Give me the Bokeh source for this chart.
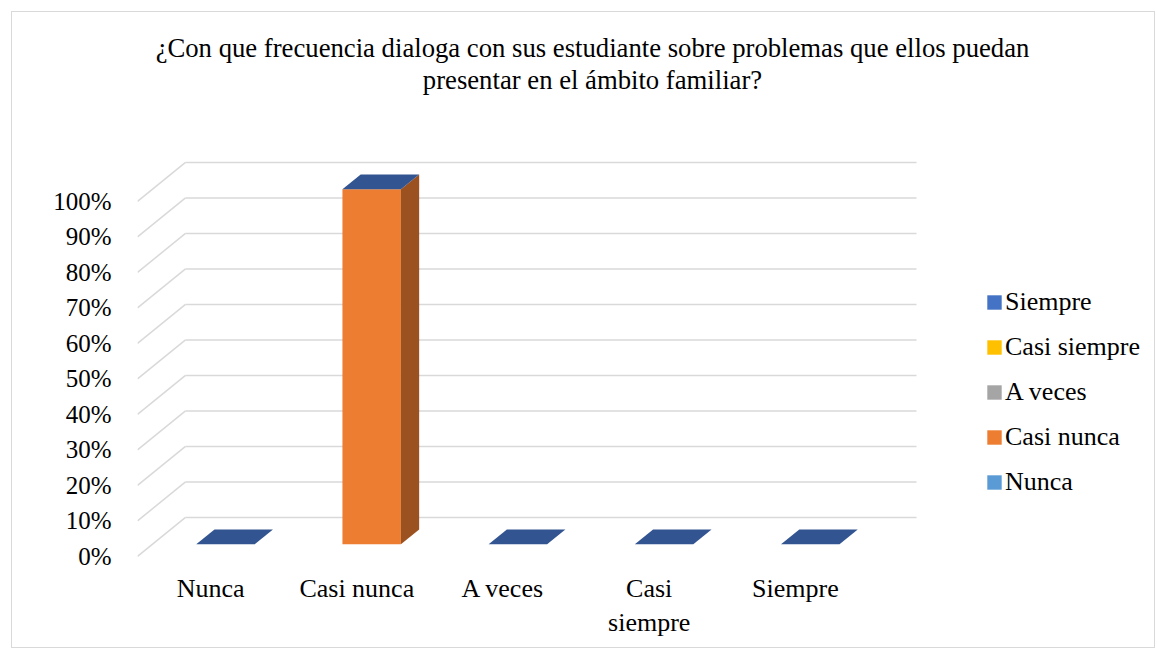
from bokeh.plotting import figure
from bokeh.models import Range1d, FixedTicker, Label, Legend, LegendItem
from bokeh.embed import file_html
from bokeh.resources import INLINE
from bokeh.core.properties import value

# ---------------- data ----------------
categories = ["Nunca", "Casi nunca", "A veces", "Casi siempre", "Siempre"]
category_labels = ["Nunca", "Casi nunca", "A veces", "Casi\nsiempre", "Siempre"]

# series (stack order bottom -> top)
series_names = ["Nunca", "Casi nunca", "A veces", "Casi siempre", "Siempre"]
nunca = [0, 0, 0, 0, 0]
casi_nunca = [0, 100, 0, 0, 0]
a_veces = [0, 0, 0, 0, 0]
casi_siempre = [0, 0, 0, 0, 0]
siempre = [0, 0, 0, 0, 0]
series_values = [nunca, casi_nunca, a_veces, casi_siempre, siempre]
series_colors = ["#5B9BD5", "#ED7D31", "#A5A5A5", "#FFC000", "#4472C4"]

y_ticks = [0, 10, 20, 30, 40, 50, 60, 70, 80, 90, 100]

title_lines = ["¿Con que frecuencia dialoga con sus estudiante sobre problemas que ellos puedan",
               "presentar en el ámbito familiar?"]

# ---------------- geometry / style ----------------
FONT = "Liberation Serif"
FS = "26px"
PX_X = 146.2        # pixels per category
PX_Y = 3.55         # pixels per percent
DX = 48 / PX_X      # depth offset (category units)
DY = 39 / PX_Y      # depth offset (percent units)
BAR_W = 0.4
Z0, Z1 = 0.31, 0.69
GRID = "#D9D9D9"


def shade(hex_color, f):
    h = hex_color.lstrip("#")
    r, g, b = (int(h[i:i + 2], 16) for i in (0, 2, 4))
    return "#%02x%02x%02x" % (int(r * f), int(g * f), int(b * f))


def proj(x, y, z):
    return x + z * DX, y + z * DY


def face(pts):
    xs, ys = zip(*[proj(*pt) for pt in pts])
    return list(xs), list(ys)


FRAME_L, FRAME_T, FRAME_R, FRAME_B = 137, 14, 1150, 563
CANVAS_L, CANVAS_T, W, H = 12, 12, 1144, 637
y0 = -2
y1 = y0 + (FRAME_B - FRAME_T) / PX_Y
x1 = (FRAME_R - FRAME_L) / PX_X

p = figure(width=W, height=H, output_backend="svg", toolbar_location=None,
           x_range=Range1d(0, x1), y_range=Range1d(y0, y1),
           min_border_left=FRAME_L - CANVAS_L, min_border_top=FRAME_T - CANVAS_T,
           min_border_right=CANVAS_L + W - FRAME_R, min_border_bottom=CANVAS_T + H - FRAME_B,
           background_fill_color="white", border_fill_color="white",
           margin=(11, 0, 0, 11), styles={"border": "1px solid #D9D9D9"})
p.outline_line_color = None
p.grid.visible = False

# gridlines: side wall diagonals and back wall lines
n = len(categories)
p.segment(x0=[0] * len(y_ticks), y0=y_ticks, x1=[DX] * len(y_ticks), y1=[v + DY for v in y_ticks],
          line_color=GRID, line_width=1.5)
p.segment(x0=[DX] * len(y_ticks), y0=[v + DY for v in y_ticks], x1=[n + DX] * len(y_ticks),
          y1=[v + DY for v in y_ticks], line_color=GRID, line_width=1.5)

# bars (stacked 3D columns)
side_xs, side_ys, side_cols = [], [], []
top_xs, top_ys = [], []
front_by_series = {name: ([], []) for name in series_names}
for i in range(n):
    xa, xb = i + 0.5 - BAR_W / 2, i + 0.5 + BAR_W / 2
    bottom = 0
    for s, name in enumerate(series_names):
        v = series_values[s][i]
        fx, fy = face([(xa, bottom, Z0), (xb, bottom, Z0), (xb, bottom + v, Z0), (xa, bottom + v, Z0)])
        front_by_series[name][0].append(fx)
        front_by_series[name][1].append(fy)
        if v > 0:
            sx, sy = face([(xb, bottom, Z0), (xb, bottom, Z1), (xb, bottom + v, Z1), (xb, bottom + v, Z0)])
            side_xs.append(sx); side_ys.append(sy); side_cols.append(shade(series_colors[s], 0.66))
        bottom += v
    tx, ty = face([(xa, bottom, Z0), (xb, bottom, Z0), (xb, bottom, Z1), (xa, bottom, Z1)])
    top_xs.append(tx); top_ys.append(ty)

renderers = {}
for s, name in enumerate(series_names):
    fx, fy = front_by_series[name]
    renderers[name] = p.patches(xs=fx, ys=fy, fill_color=series_colors[s], line_color=None)
if side_xs:
    p.patches(xs=side_xs, ys=side_ys, fill_color=side_cols, line_color=None)
p.patches(xs=top_xs, ys=top_ys, fill_color=shade(series_colors[-1], 0.74), line_color=None)

# axes
p.yaxis.ticker = FixedTicker(ticks=y_ticks)
p.yaxis.major_label_overrides = {v: f"{v}%" for v in y_ticks}
p.yaxis.axis_line_color = None
p.yaxis.major_tick_line_color = None
p.yaxis.minor_tick_line_color = None
p.yaxis.major_label_standoff = 20
p.yaxis.major_label_text_font = FONT
p.yaxis.major_label_text_font_size = "25px"
p.yaxis.major_label_text_color = "black"

xt = [i + 0.5 for i in range(n)]
p.xaxis.ticker = FixedTicker(ticks=xt)
p.xaxis.major_label_overrides = {t: lab for t, lab in zip(xt, category_labels)}
p.xaxis.axis_line_color = None
p.xaxis.major_tick_line_color = None
p.xaxis.minor_tick_line_color = None
p.xaxis.major_label_standoff = 4
p.xaxis.major_label_text_font = FONT
p.xaxis.major_label_text_font_size = FS
p.xaxis.major_label_text_color = "black"

# title
tx_center = (592 - FRAME_L) / PX_X
for k, line in enumerate(title_lines):
    yc = (556 - (48 + 32 * k)) / PX_Y
    p.add_layout(Label(x=tx_center, y=yc, text=line, text_align="center", text_baseline="middle",
                       text_font=FONT, text_font_size="26.7px", text_color="black"))

# legend (top series first)
items = [LegendItem(label=value(name), renderers=[renderers[name]]) for name in reversed(series_names)]
legend = Legend(items=items, location=(848, 66), orientation="vertical",
                glyph_width=18, glyph_height=18, label_height=31, spacing=14,
                label_standoff=2, padding=0, margin=0,
                border_line_color=None, background_fill_alpha=0,
                label_text_font=FONT, label_text_font_size=FS, label_text_color="black")
p.add_layout(legend)

open("out.html", "w").write(file_html(p, INLINE))
